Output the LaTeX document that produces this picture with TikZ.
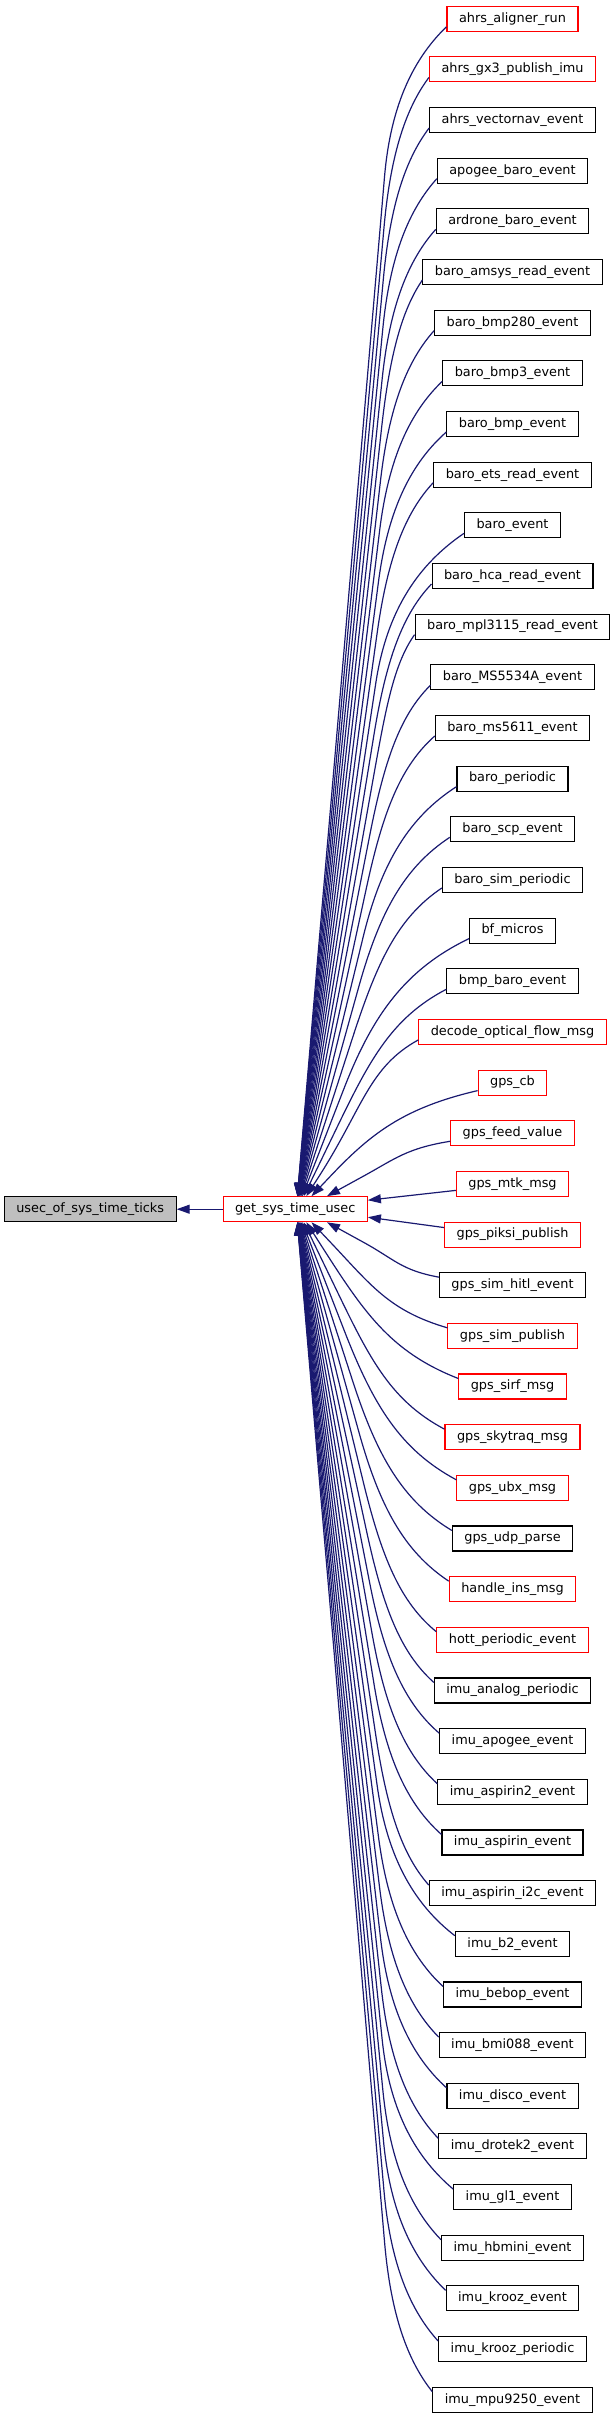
\documentclass[tikz,border=0pt]{standalone}
\usepackage{fontspec}
\setmainfont{DejaVu Sans}
\usetikzlibrary{arrows.meta,calc}
\definecolor{edgeblue}{HTML}{191970}
\definecolor{rootgray}{HTML}{BFBFBF}
\newdimen\qdim
\begin{document}
\begin{tikzpicture}[x=1pt,y=-1pt,
  box/.style={draw=black,fill=white,line width=1.1pt,minimum height=25pt,inner xsep=12pt,inner ysep=0pt,
    font=\fontsize{12.86}{15}\selectfont},
  bbox/.style={box},
  rbox/.style={box,draw=red},
  rootbox/.style={box,fill=rootgray},
  edge/.style={draw=edgeblue,line width=1.2pt,-{Triangle[length=13pt,width=9pt]}}]
\useasboundingbox (0,0) rectangle (615,2419);
\node[rootbox] (u) at (90.2,1209.2) {usec\_of\_sys\_time\_ticks};
\node[rbox] (g) at (295.2,1209.2) {get\_sys\_time\_usec};
\foreach \nm/\st [count=\i] in {
 ahrs\_aligner\_run/rbox,
 ahrs\_gx3\_publish\_imu/rbox,
 ahrs\_vectornav\_event/bbox,
 apogee\_baro\_event/bbox,
 ardrone\_baro\_event/bbox,
 baro\_amsys\_read\_event/bbox,
 baro\_bmp280\_event/bbox,
 baro\_bmp3\_event/bbox,
 baro\_bmp\_event/bbox,
 baro\_ets\_read\_event/bbox,
 baro\_event/bbox,
 baro\_hca\_read\_event/bbox,
 baro\_mpl3115\_read\_event/bbox,
 baro\_MS5534A\_event/bbox,
 baro\_ms5611\_event/bbox,
 baro\_periodic/bbox,
 baro\_scp\_event/bbox,
 baro\_sim\_periodic/bbox,
 bf\_micros/bbox,
 bmp\_baro\_event/bbox,
 decode\_optical\_flow\_msg/rbox,
 gps\_cb/rbox,
 gps\_feed\_value/rbox,
 gps\_mtk\_msg/rbox,
 gps\_piksi\_publish/rbox,
 gps\_sim\_hitl\_event/bbox,
 gps\_sim\_publish/rbox,
 gps\_sirf\_msg/rbox,
 gps\_skytraq\_msg/rbox,
 gps\_ubx\_msg/rbox,
 gps\_udp\_parse/bbox,
 handle\_ins\_msg/rbox,
 hott\_periodic\_event/rbox,
 imu\_analog\_periodic/bbox,
 imu\_apogee\_event/bbox,
 imu\_aspirin2\_event/bbox,
 imu\_aspirin\_event/bbox,
 imu\_aspirin\_i2c\_event/bbox,
 imu\_b2\_event/bbox,
 imu\_bebop\_event/bbox,
 imu\_bmi088\_event/bbox,
 imu\_disco\_event/bbox,
 imu\_drotek2\_event/bbox,
 imu\_gl1\_event/bbox,
 imu\_hbmini\_event/bbox,
 imu\_krooz\_event/bbox,
 imu\_krooz\_periodic/bbox,
 imu\_mpu9250\_event/bbox}
 {\node[\st] (n\i) at (512.5,{18.7+(\i-1)*50.66}) {\nm};}
\draw[edge] (g.west) -- (u.east);
\draw[edge] ([yshift=-6.5pt]n24.west) -- ([yshift=9pt]g.east);
\draw[edge] ([yshift=7pt]n25.west) -- ([yshift=-8pt]g.east);
\foreach \i in {1,...,23,26,27,...,48}{
  \ifnum\i<25
    \def\qsg{-1}\pgfmathsetmacro\qk{24-\i}
    \def\qsa{south west}\def\qea{north}\def\qys{5}
  \else
    \def\qsg{1}\pgfmathsetmacro\qk{\i-25}
    \def\qsa{north west}\def\qea{south}\def\qys{-5}
  \fi
  \pgfmathsetmacro\qoff{0.8+31/\qk}
  \pgfextractx{\qdim}{\pgfpointanchor{n\i}{\qsa}}\pgfmathsetmacro\qSx{\qdim}
  \pgfextracty{\qdim}{\pgfpointanchor{n\i}{\qsa}}\pgfmathsetmacro\qSy{\qdim+\qys pt}
  \pgfextractx{\qdim}{\pgfpointanchor{g}{\qea}}\pgfmathsetmacro\qEx{\qdim+\qoff pt}
  \pgfextracty{\qdim}{\pgfpointanchor{g}{\qea}}\pgfmathsetmacro\qEy{\qdim}
  \pgfmathsetmacro\qhh{abs(\qSy-\qEy)}
  \pgfmathsetmacro\qhc{min(\qhh-20,150)}
  \pgfmathsetmacro\qLs{\qhh-\qhc}
  \pgfmathsetmacro\qs{100/\qhh}
  \pgfmathsetmacro\qTx{\qEx+\qs*\qLs}
  \pgfmathsetmacro\qTy{\qEy-\qsg*\qLs}
  \pgfmathsetmacro\qBx{\qTx+\qs*0.5*\qhc}
  \pgfmathsetmacro\qBy{\qTy-\qsg*0.5*\qhc}
  \pgfmathsetmacro\qAx{\qSx-0.5*(\qSx-\qTx)}
  \pgfmathsetmacro\qAy{\qSy+\qsg*0.2*\qhc}
  \draw[edge] ([yshift=\qys pt]n\i.\qsa) .. controls (\qAx pt,\qAy pt) and (\qBx pt,\qBy pt) .. (\qTx pt,\qTy pt) -- ([xshift=\qoff pt]g.\qea);
}
\end{tikzpicture}
\end{document}
